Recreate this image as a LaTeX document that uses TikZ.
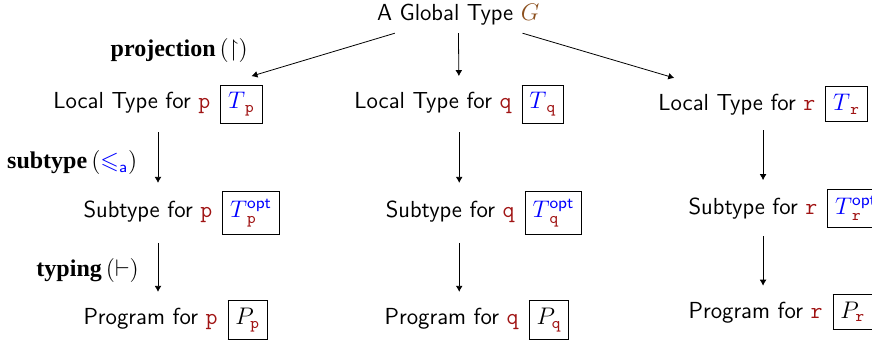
\documentclass[tikz,border=0pt]{standalone}
\usepackage{amsmath}
\usepackage{amssymb}
\usepackage{fontspec}
\setmainfont{Liberation Serif}
\usepackage{tikz}
\usepackage{xcolor}
\usetikzlibrary{arrows.meta}

\definecolor{rolered}{RGB}{160,20,20}
\definecolor{globbrown}{RGB}{140,80,30}
\newcommand{\rolename}[1]{\textcolor{rolered}{\texttt{#1}}}
\newcommand{\rolesub}[1]{\textcolor{rolered}{\mathtt{#1}}}
\newcommand{\loctype}[1]{\textcolor{blue}{T}_{\rolesub{#1}}}
\newcommand{\opttype}[1]{\textcolor{blue}{T}^{\textcolor{blue}{\mathsf{opt}}}_{\rolesub{#1}}}
\newcommand{\progof}[1]{P_{\rolesub{#1}}}
\newcommand{\typebox}[1]{\hskip 5pt\fbox{$#1$}}
\setlength{\fboxsep}{3.5pt}

\begin{document}
\begin{tikzpicture}[rownode/.style={anchor=west, inner sep=4pt, font=\fontsize{11.6}{14}\selectfont\sffamily}, steplabel/.style={inner sep=0pt, font=\fontsize{12}{14.5}\selectfont}, flow/.style={-{Latex[length=3pt,width=3.4pt]}}]
            \useasboundingbox (0,0) rectangle (15.32,-6.15);
            \node[inner sep=4pt, font=\fontsize{11.6}{14}\selectfont\sffamily] (G) at (8.05,-0.25) {A Global Type $\textcolor{globbrown}{G}$};

            \node[rownode] (lp) at (0.79,-1.83) {Local Type for \rolename{p}\typebox{\loctype{p}}};
            \node[rownode] (lq) at (6.08,-1.83) {Local Type for \rolename{q}\typebox{\loctype{q}}};
            \node[rownode] (lr) at (11.42,-1.83) {Local Type for \rolename{r}\typebox{\loctype{r}}};

            \node[rownode] (sp) at (1.32,-3.74) {Subtype for \rolename{p}\typebox{\opttype{p}}};
            \node[rownode] (sq) at (6.63,-3.74) {Subtype for \rolename{q}\typebox{\opttype{q}}};
            \node[rownode] (sr) at (11.95,-3.66) {Subtype for \rolename{r}\typebox{\opttype{r}}};

            \node[rownode] (pp) at (1.32,-5.62) {Program for \rolename{p}\typebox{\progof{p}}};
            \node[rownode] (pq) at (6.61,-5.62) {Program for \rolename{q}\typebox{\progof{q}}};
            \node[rownode] (pr) at (11.95,-5.48) {Program for \rolename{r}\typebox{\progof{r}}};

            \node[steplabel] (proj) at (3.15,-0.88) {\textbf{projection}\,$(\upharpoonright)$};
            \node[steplabel] (sub) at (1.27,-2.86) {\textbf{subtype}\,$(\textcolor{blue}{\leqslant_{\mathsf{a}}})$};
            \node[steplabel] (typ) at (1.54,-4.76) {\textbf{typing}\,$(\vdash)$};

            % projection
            \draw (G) edge[flow] (lp);
            \draw (G) edge[flow] (lq);
            \draw (G) edge[flow] (lr);
            % subtyping
            \draw (lp.south) edge[flow] (lp.south |- sp.north);
            \draw (lq.south) edge[flow] (lq.south |- sq.north);
            \draw (lr.south) edge[flow] (lr.south |- sr.north);
            % typing
            \draw (lp.south |- sp.south) edge[flow] (lp.south |- pp.north);
            \draw (lq.south |- sq.south) edge[flow] (lq.south |- pq.north);
            \draw (lr.south |- sr.south) edge[flow] (lr.south |- pr.north);

        \end{tikzpicture}
\end{document}
